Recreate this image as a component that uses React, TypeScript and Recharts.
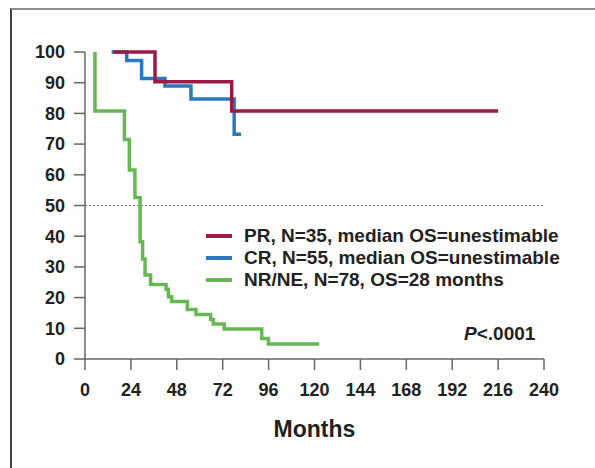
import React from "react"
import { Legend, Line, LineChart, ReferenceLine, XAxis, YAxis } from "recharts"

// Kaplan-Meier steps (months, % surviving)
const prMonths = [14.8, 36.6, 76.7, 216]
const prSurvival = [100, 90.3, 80.8, 80.8]

const crMonths = [13.9, 21.8, 29.6, 41.8, 55.4, 78, 81.6]
const crSurvival = [100, 97.2, 91.4, 88.9, 84.7, 73.2, 73.2]

const nrMonths = [
  5.2, 5.2, 20.6, 23.2, 26.1, 28.8, 30.1, 31.4, 34.3, 42.4, 43.6, 45.3, 53.5, 58, 65.7, 67.1,
  72.8, 92.4, 95.9, 122.5,
]
const nrSurvival = [
  100, 80.8, 71.5, 61.6, 52.6, 38.2, 32.6, 27.4, 24.3, 22.7, 20.3, 18.7, 16.1, 14.5, 12.9, 11.4,
  9.8, 6.7, 4.9, 4.9,
]

const monthTicks = [0, 24, 48, 72, 96, 120, 144, 168, 192, 216, 240]
const survivalTicks = [0, 10, 20, 30, 40, 50, 60, 70, 80, 90, 100]

const PR_COLOR = "#9c1a43"
const CR_COLOR = "#2a79c0"
const NR_COLOR = "#68b755"

const FONT = "'Liberation Sans', Arial, sans-serif"
const TEXT = "#222"
const AXIS = "#666"

function toPoints(months: number[], survival: number[]) {
  return months.map((month, i) => ({ month, survival: survival[i] }))
}

const series = [
  { name: "NR/NE, N=78, OS=28 months", color: NR_COLOR, data: toPoints(nrMonths, nrSurvival) },
  { name: "CR, N=55, median OS=unestimable", color: CR_COLOR, data: toPoints(crMonths, crSurvival) },
  { name: "PR, N=35, median OS=unestimable", color: PR_COLOR, data: toPoints(prMonths, prSurvival) },
]

const legendOrder = [series[2], series[1], series[0]]

function LegendBox() {
  return (
    <div style={{ fontFamily: FONT, fontWeight: 700, fontSize: 19, color: TEXT }}>
      {legendOrder.map((s) => (
        <div key={s.name} style={{ display: "flex", alignItems: "center", height: 22 }}>
          <span style={{ width: 26, height: 4, background: s.color, marginRight: 12 }} />
          <span style={{ whiteSpace: "nowrap", lineHeight: "22px" }}>{s.name}</span>
        </div>
      ))}
    </div>
  )
}

export default function App() {
  const tickStyle = { fill: TEXT, fontSize: 18, fontWeight: 700, fontFamily: FONT }

  return (
    <div
      style={{
        position: "absolute",
        left: 0,
        top: 0,
        width: 595,
        height: 468,
        background: "#fff",
        overflow: "hidden",
      }}
    >
      <div
        style={{
          position: "absolute",
          left: 10,
          top: 8,
          width: 600,
          height: 480,
          borderTop: "2px solid #8e8e8e",
          borderLeft: "2px solid #444",
        }}
      />
      <LineChart width={595} height={468} margin={{ top: 52, right: 51, bottom: 27, left: 15 }}>
        <XAxis
          dataKey="month"
          type="number"
          domain={[0, 240]}
          ticks={monthTicks}
          interval={0}
          allowDataOverflow
          height={82}
          tickSize={11}
          tickMargin={13}
          stroke={AXIS}
          strokeWidth={1.5}
          tick={tickStyle}
          label={{
            value: "Months",
            position: "insideBottom",
            offset: 4,
            fill: TEXT,
            fontSize: 23,
            fontWeight: 700,
            fontFamily: FONT,
          }}
        />
        <YAxis
          dataKey="survival"
          type="number"
          domain={[0, 100]}
          ticks={survivalTicks}
          interval={0}
          width={70}
          tickSize={11}
          tickMargin={9}
          stroke={AXIS}
          strokeWidth={1.5}
          tick={tickStyle}
        />
        <ReferenceLine y={50} stroke="#777" strokeWidth={1.2} strokeDasharray="2 2" />
        {series.map((s) => (
          <Line
            key={s.name}
            data={s.data}
            dataKey="survival"
            name={s.name}
            type="stepAfter"
            stroke={s.color}
            strokeWidth={3.5}
            dot={false}
            activeDot={false}
            isAnimationActive={false}
          />
        ))}
        <Legend
          layout="vertical"
          align="center"
          verticalAlign="middle"
          content={<LegendBox />}
          wrapperStyle={{ left: 206, top: 225, width: 380 }}
        />
      </LineChart>
      <div
        style={{
          position: "absolute",
          left: 464,
          top: 324,
          fontFamily: FONT,
          fontWeight: 700,
          fontSize: 19,
          lineHeight: "19px",
          color: TEXT,
        }}
      >
        <i>P</i>&lt;.0001
      </div>
    </div>
  )
}
